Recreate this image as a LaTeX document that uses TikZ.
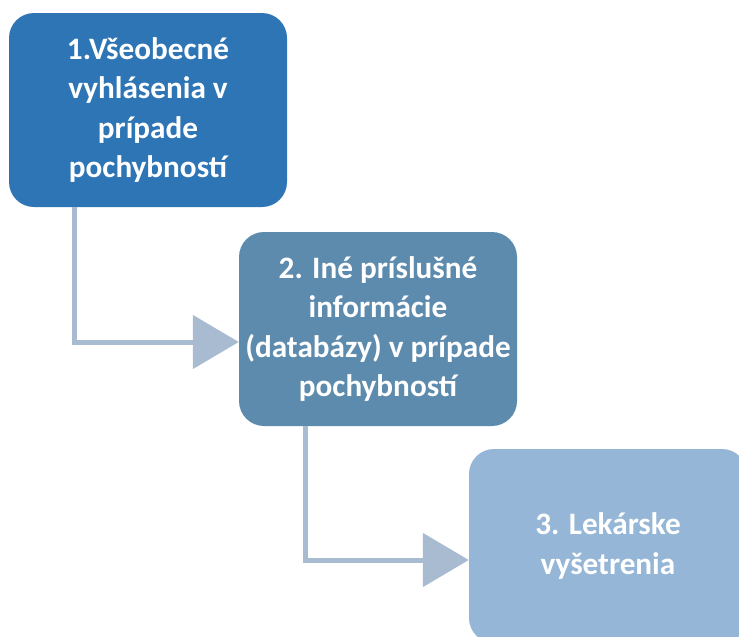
\documentclass[tikz,border=0pt]{standalone}
\usepackage{fontspec}
\setmainfont{Carlito}
\usepackage{tikz}
\usetikzlibrary{arrows.meta,positioning}
\definecolor{stepOne}{HTML}{2E75B6}
\definecolor{stepTwo}{HTML}{5D8BAE}
\definecolor{stepThree}{HTML}{95B6D6}
\definecolor{linkGray}{HTML}{A9BBD0}
\begin{document}
\begin{tikzpicture}[x=1pt, y=-1pt,
  box/.style={rectangle, rounded corners=25pt, minimum width=278pt, minimum height=194pt,
    inner sep=0pt, align=center, text=white, font=\bfseries\fontsize{31.2}{39.5}\selectfont},
  link/.style={draw=linkGray, line width=5pt, -{Triangle[length=46pt,width=53pt]}}]
\useasboundingbox (0,0) rectangle (739,637);
\clip (0,0) rectangle (739,637);
\node[box, fill=stepOne] (b1) at (148,110) {1.Všeobecné\\vyhlásenia v\\prípade\\pochybností};
\node[box, fill=stepTwo] (b2) at (378,329) {2. Iné príslušné\\informácie\\(databázy) v prípade\\pochybností};
\node[box, fill=stepThree] (b3) at (608,546) {3. Lekárske\\vyšetrenia};
% connectors
\draw[link] ([xshift=66pt]b1.south west) |- ([yshift=-13pt]b2.west);
\draw[link] ([xshift=67pt]b2.south west) |- ([yshift=-14pt]b3.west);
\end{tikzpicture}
\end{document}
